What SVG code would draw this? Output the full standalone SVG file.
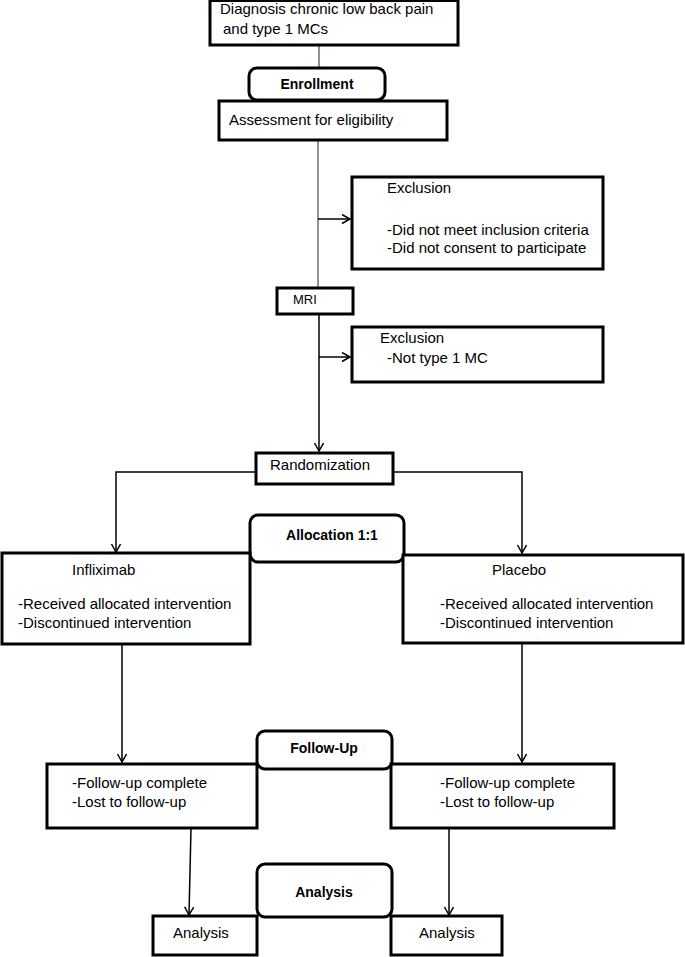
<svg xmlns="http://www.w3.org/2000/svg" width="685" height="957" viewBox="0 0 685 957">
<style>
.box{fill:#fff;stroke:#000;stroke-width:3}
.rbox{fill:#fff;stroke:#000;stroke-width:3}
.t{font-family:"Liberation Sans",Arial,sans-serif;font-size:15px;fill:#000}
.b{font-weight:bold;text-anchor:middle;font-size:14px}
.c{fill:none;stroke:#000;stroke-width:1.5}
.g{fill:none;stroke:#555;stroke-width:1.3}
</style>
<defs>
<marker id="ah" markerWidth="12" markerHeight="12" refX="9" refY="5" orient="auto" markerUnits="userSpaceOnUse">
<path d="M1,0.5 L9,5 L1,9.5" fill="none" stroke="#000" stroke-width="1.5"/>
</marker>
</defs>
<rect width="685" height="957" fill="#fff"/>
<g id="connectors">
<line class="g" x1="319" y1="45" x2="319" y2="68"/>
<line class="g" x1="318" y1="140" x2="318" y2="300"/>
<line class="c" x1="318" y1="219" x2="350" y2="219" marker-end="url(#ah)"/>
<line class="c" x1="319" y1="314" x2="319" y2="451" marker-end="url(#ah)"/>
<line class="c" x1="319" y1="357" x2="350" y2="357" marker-end="url(#ah)"/>
<polyline class="c" points="256,472 116,472 116,552" marker-end="url(#ah)"/>
<polyline class="c" points="393,472 522,472 522,553" marker-end="url(#ah)"/>
<line class="c" x1="122" y1="644" x2="122" y2="762" marker-end="url(#ah)"/>
<line class="c" x1="522" y1="643" x2="522" y2="762" marker-end="url(#ah)"/>
<line class="c" x1="191" y1="828" x2="189" y2="915" marker-end="url(#ah)"/>
<line class="c" x1="449" y1="828" x2="449" y2="915" marker-end="url(#ah)"/>
</g>
<g id="diagnosis">
<rect class="box" x="210" y="0.5" width="248" height="44.5"/>
<text class="t" x="220" y="14">Diagnosis chronic low back pain</text>
<text class="t" x="223" y="34">and type 1 MCs</text>
</g>
<g id="enrollment">
<rect class="rbox" x="249" y="68" width="136" height="32" rx="8"/>
<text class="t b" x="317" y="89">Enrollment</text>
</g>
<g id="assessment">
<rect class="box" x="219" y="101" width="228" height="39"/>
<text class="t" x="229" y="125">Assessment for eligibility</text>
</g>
<g id="exclusion1">
<rect class="box" x="352" y="177" width="251" height="92"/>
<text class="t" x="387" y="193">Exclusion</text>
<text class="t" x="387" y="235">-Did not meet inclusion criteria</text>
<text class="t" x="387" y="253">-Did not consent to participate</text>
</g>
<g id="mri">
<rect class="box" x="277" y="288" width="76" height="26"/>
<text class="t" x="293" y="304" style="font-size:13px">MRI</text>
</g>
<g id="exclusion2">
<rect class="box" x="352" y="327" width="251" height="55"/>
<text class="t" x="380" y="343">Exclusion</text>
<text class="t" x="387" y="363">-Not type 1 MC</text>
</g>
<g id="randomization">
<rect class="box" x="256" y="453" width="137" height="31"/>
<text class="t" x="270" y="470">Randomization</text>
</g>
<g id="allocation">
<rect class="rbox" x="250" y="515" width="154" height="47" rx="8"/>
<text class="t b" x="332" y="540">Allocation 1:1</text>
</g>
<g id="infliximab">
<rect class="box" x="2" y="553" width="248" height="91"/>
<text class="t" x="72" y="575">Infliximab</text>
<text class="t" x="18" y="609">-Received allocated intervention</text>
<text class="t" x="18" y="628">-Discontinued intervention</text>
</g>
<g id="placebo">
<rect class="box" x="403" y="555" width="280" height="88"/>
<text class="t" x="492" y="575">Placebo</text>
<text class="t" x="440" y="609">-Received allocated intervention</text>
<text class="t" x="440" y="628">-Discontinued intervention</text>
</g>
<g id="followup-label">
<rect class="rbox" x="257" y="731" width="135" height="38" rx="8"/>
<text class="t b" x="324" y="753">Follow-Up</text>
</g>
<g id="followup-left">
<rect class="box" x="47" y="764" width="210" height="64"/>
<text class="t" x="72" y="788">-Follow-up complete</text>
<text class="t" x="72" y="807">-Lost to follow-up</text>
</g>
<g id="followup-right">
<rect class="box" x="391" y="764" width="223" height="64"/>
<text class="t" x="440" y="788">-Follow-up complete</text>
<text class="t" x="440" y="807">-Lost to follow-up</text>
</g>
<g id="analysis-label">
<rect class="rbox" x="257" y="864" width="135" height="53" rx="8"/>
<text class="t b" x="324" y="897">Analysis</text>
</g>
<g id="analysis-left">
<rect class="box" x="153" y="916" width="104" height="39"/>
<text class="t" x="173" y="938">Analysis</text>
</g>
<g id="analysis-right">
<rect class="box" x="391" y="916" width="111" height="39"/>
<text class="t" x="419" y="938">Analysis</text>
</g>
</svg>
